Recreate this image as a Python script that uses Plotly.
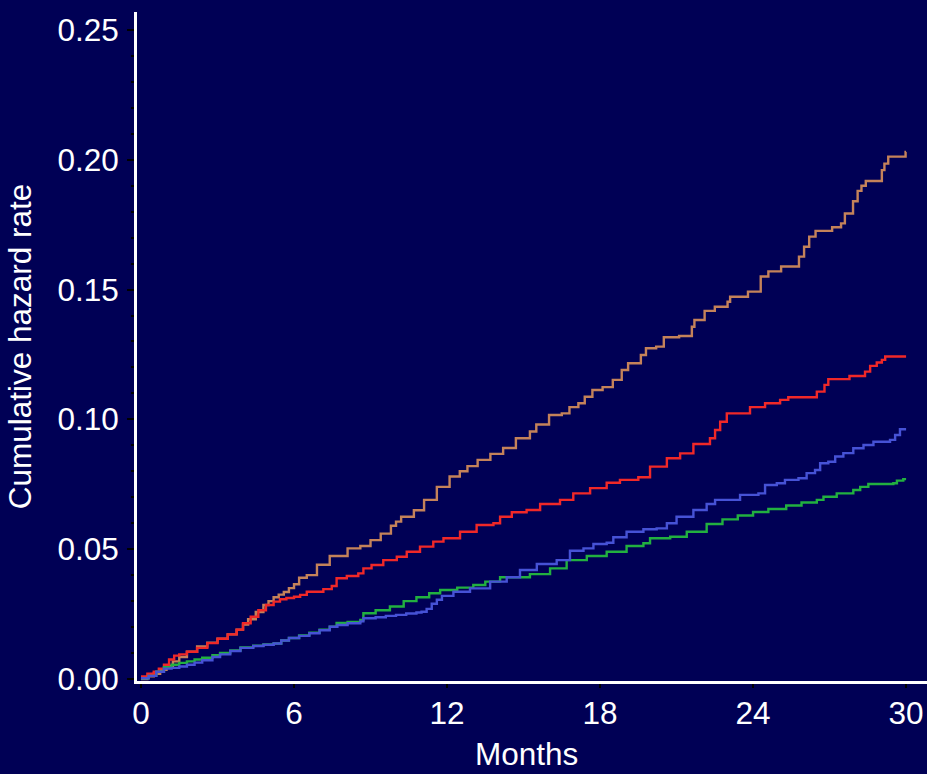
import plotly.graph_objects as go

# Cumulative hazard step curves (months, cumulative hazard)
tan_t = [0, 0.25, 0.5, 0.75, 1.0, 1.25, 1.5, 1.8, 2.2, 2.6, 3.0, 3.4, 3.75, 4.0, 4.2, 4.5, 4.8,
         5.0, 5.2, 5.4, 5.6, 5.8, 6.0, 6.2, 6.5, 6.9, 7.4, 8.1, 8.6,
         9.0, 9.4, 9.8, 10.0, 10.2, 10.7, 11.1, 11.6, 12.1, 12.5, 12.8, 13.2, 13.7, 14.2, 14.7,
         15.25, 15.5, 16.0, 16.5, 16.8, 17.15, 17.4, 17.7, 18.1, 18.5, 18.85, 19.1, 19.6, 19.8,
         20.2, 20.5, 21.1, 21.6, 21.7, 22.1, 22.5, 23.0, 23.1, 23.8, 24.3, 24.6, 25.1, 25.8,
         26.0, 26.2, 26.45, 27.1, 27.45, 27.6, 27.92, 28.1, 28.25, 28.42, 29.05, 29.15, 29.3,
         29.98, 30.0]
tan_v = [0.0, 0.001, 0.002, 0.0035, 0.005, 0.0068, 0.0085, 0.0105, 0.0125, 0.014, 0.0155, 0.0172,
         0.019, 0.021, 0.023, 0.0258, 0.0285, 0.030, 0.0315, 0.0325, 0.0335, 0.035, 0.0365,
         0.039, 0.040, 0.044, 0.0474, 0.0503, 0.0512, 0.0535, 0.056, 0.059, 0.0606, 0.0625, 0.065,
         0.069, 0.074, 0.078, 0.080, 0.082, 0.0844, 0.0867, 0.089, 0.0927, 0.0953, 0.098, 0.1017,
         0.1023, 0.1047, 0.1062, 0.1087, 0.1113, 0.1124, 0.1152, 0.119, 0.1216, 0.1248, 0.1274,
         0.128, 0.1316, 0.1321, 0.1357, 0.1383, 0.1418, 0.1434, 0.1453, 0.1472, 0.1492, 0.155,
         0.157, 0.1589, 0.1627, 0.1665, 0.1704, 0.1726, 0.174, 0.1755, 0.1793, 0.184, 0.188,
         0.190, 0.1918, 0.196, 0.1985, 0.2012, 0.203, 0.203]

red_t = [0, 0.25, 0.5, 0.7, 0.9, 1.1, 1.3, 1.5, 1.8, 2.2, 2.6, 3.0, 3.4, 3.75, 4.0, 4.3, 4.6,
         4.9, 5.2, 5.45, 5.7, 6.0, 6.24, 6.5, 7.15, 7.48,
         7.67, 8.07, 8.52, 8.72, 9.04, 9.5, 10.03, 10.42, 10.94, 11.46, 11.86, 12.51, 13.16,
         13.82, 14.08, 14.54, 15.12, 15.65, 16.43, 16.95, 17.61, 18.26, 18.78, 19.5, 19.96,
         20.62, 21.14, 21.66, 22.31, 22.51, 22.71, 22.97, 23.88, 24.47, 25.06, 25.38, 26.5,
         26.8, 26.95, 27.78, 28.39, 28.59, 28.85, 29.05, 29.18, 30.0]
red_v = [0.001, 0.002, 0.0028, 0.004, 0.0055, 0.0075, 0.009, 0.0095, 0.0105, 0.012, 0.0138,
         0.0155, 0.0172, 0.019, 0.0215, 0.024, 0.0265, 0.0285, 0.0298, 0.0307, 0.0312,
         0.0317, 0.0324, 0.0336, 0.0346, 0.0358, 0.0388, 0.0397, 0.0407, 0.0426, 0.0439, 0.0458,
         0.0471, 0.049, 0.051, 0.0529, 0.0542, 0.0567, 0.0593, 0.060, 0.0625, 0.0642, 0.0651,
         0.0674, 0.069, 0.0715, 0.0735, 0.0756, 0.0767, 0.0777, 0.0818, 0.085, 0.0869, 0.0905,
         0.0927, 0.0959, 0.0991, 0.1023, 0.1047, 0.1062, 0.1075, 0.1085, 0.1107, 0.1133, 0.1155,
         0.1167, 0.1184, 0.1206, 0.1219, 0.1229, 0.1242, 0.1242]

blue_t = [0, 0.3, 0.6, 0.9, 1.2, 1.5, 1.8, 2.1, 2.4, 2.8, 3.1, 3.5, 3.9, 4.4, 4.8, 5.2, 5.5,
          5.8, 6.2, 6.6, 7.0, 7.4, 7.7, 8.1, 8.6, 8.72, 9.2, 9.6, 10.0, 10.4, 10.8, 11.0,
          11.2, 11.4, 11.6, 11.8, 12.25, 12.9, 13.69, 14.34, 14.86, 15.52, 16.3, 16.82, 17.35,
          17.74, 18.26, 18.52, 19.04, 19.7, 20.22, 20.62, 21.0, 21.66, 22.18, 22.51, 23.49,
          24.21, 24.47, 24.93, 25.25, 25.78, 26.1, 26.43, 26.63, 26.95, 27.22, 27.54, 27.93,
          28.33, 28.72, 29.37, 29.57, 29.76, 30.0]
blue_v = [0.0003, 0.0012, 0.0028, 0.004, 0.0043, 0.0048, 0.0055, 0.0063, 0.0072, 0.0085, 0.0095,
          0.0108, 0.012, 0.0127, 0.0132, 0.0137, 0.0148, 0.0158, 0.0166, 0.0176, 0.0188, 0.0201,
          0.0208, 0.0215, 0.0222, 0.0234, 0.0238, 0.0243, 0.0247, 0.0252, 0.0256, 0.0259,
          0.027, 0.029, 0.0305, 0.032, 0.0336, 0.0349, 0.0375, 0.0392, 0.042, 0.0443, 0.0458,
          0.0494, 0.0503, 0.052, 0.0525, 0.0546, 0.0567, 0.0577, 0.058, 0.060, 0.0625, 0.0651,
          0.0674, 0.069, 0.0709, 0.0715, 0.0747, 0.0754, 0.0767, 0.0773, 0.0793, 0.0805, 0.0831,
          0.0837, 0.0857, 0.087, 0.0889, 0.0901, 0.0914, 0.0921, 0.094, 0.0962, 0.0962]

green_t = [0, 0.3, 0.6, 0.9, 1.2, 1.5, 1.8, 2.1, 2.4, 2.8, 3.1, 3.5, 3.9, 4.4, 4.8, 5.2, 5.5,
           5.8, 6.2, 6.6, 7.0, 7.4, 7.67, 8.1, 8.6, 8.72, 9.2, 9.76, 10.3, 10.8, 11.3, 11.73,
           12.4, 13.03, 13.5, 14.08, 15.25, 16.04, 16.69, 17.48, 18.26, 19.04, 19.7, 19.96,
           20.75, 21.4, 22.18, 22.8, 23.4, 24.0, 24.6, 25.3, 25.9, 26.5, 26.76, 27.28, 27.93,
           28.2, 28.52, 29.5, 29.64, 29.89, 30.0]
green_v = [0.0003, 0.0012, 0.0028, 0.0045, 0.0055, 0.0062, 0.0068, 0.0075, 0.0082, 0.0092, 0.010,
           0.011, 0.0122, 0.0128, 0.0133, 0.0137, 0.0148, 0.0158, 0.0168, 0.0178, 0.019, 0.0201,
           0.0216, 0.022, 0.0227, 0.0253, 0.0265, 0.0279, 0.030, 0.0315, 0.033, 0.0343, 0.0352,
           0.0362, 0.0375, 0.0392, 0.0404, 0.0426, 0.0458, 0.0474, 0.049, 0.0512, 0.0523, 0.0542,
           0.0548, 0.0567, 0.0597, 0.0615, 0.063, 0.0643, 0.0655, 0.0668, 0.068, 0.069, 0.0702,
           0.0715, 0.0728, 0.074, 0.0751, 0.0754, 0.0764, 0.077, 0.077]

x_ticks = [0, 6, 12, 18, 24, 30]
y_ticks = [0.0, 0.05, 0.10, 0.15, 0.20, 0.25]
y_tick_text = ["0.00", "0.05", "0.10", "0.15", "0.20", "0.25"]

BG = "#000055"
FONT = "Liberation Sans, Arial, sans-serif"
FS = 31.5

fig = go.Figure()
series = [
    (tan_t, tan_v, "#C4825A"),
    (red_t, red_v, "#F02828"),
    (green_t, green_v, "#22B040"),
    (blue_t, blue_v, "#4652D6"),
]
for t, v, c in series:
    fig.add_trace(go.Scatter(x=t, y=v, mode="lines", line=dict(color=c, width=2.4, shape="hv"),
                             showlegend=False, hoverinfo="skip"))

fig.update_layout(
    width=927, height=774,
    paper_bgcolor=BG, plot_bgcolor=BG,
    margin=dict(l=137, r=0, t=12, b=93),
    font=dict(family=FONT, color="white", size=FS),
)
fig.update_xaxes(
    range=[-0.157, 30.82], tickvals=x_ticks, showgrid=False, zeroline=False,
    showline=True, linecolor="white", linewidth=3, automargin=False,
    ticks="outside", ticklen=4, tickwidth=2, tickcolor="black",
    tickfont=dict(size=FS, color="white"), ticklabelstandoff=-2,
)
fig.update_yaxes(
    range=[-0.00077, 0.2569], tickvals=y_ticks, ticktext=y_tick_text, showgrid=False,
    zeroline=False, showline=True, linecolor="white", linewidth=3, automargin=False,
    ticks="outside", ticklen=7, tickwidth=2, tickcolor="black",
    minor=dict(dtick=0.01, ticks="outside", ticklen=3, tickwidth=2, tickcolor="black"),
    tickfont=dict(size=FS, color="white"), ticklabelstandoff=2,
    title=dict(text="Cumulative hazard rate", font=dict(size=FS, color="white"), standoff=17),
)

# x-axis title placed low, just above the bottom edge
fig.add_annotation(text="Months", xref="x", x=15.1, yref="paper", y=0,
                   xanchor="center", yanchor="bottom", yshift=-93, showarrow=False,
                   font=dict(size=FS, color="white", family=FONT))

fig.write_html("out.html")
